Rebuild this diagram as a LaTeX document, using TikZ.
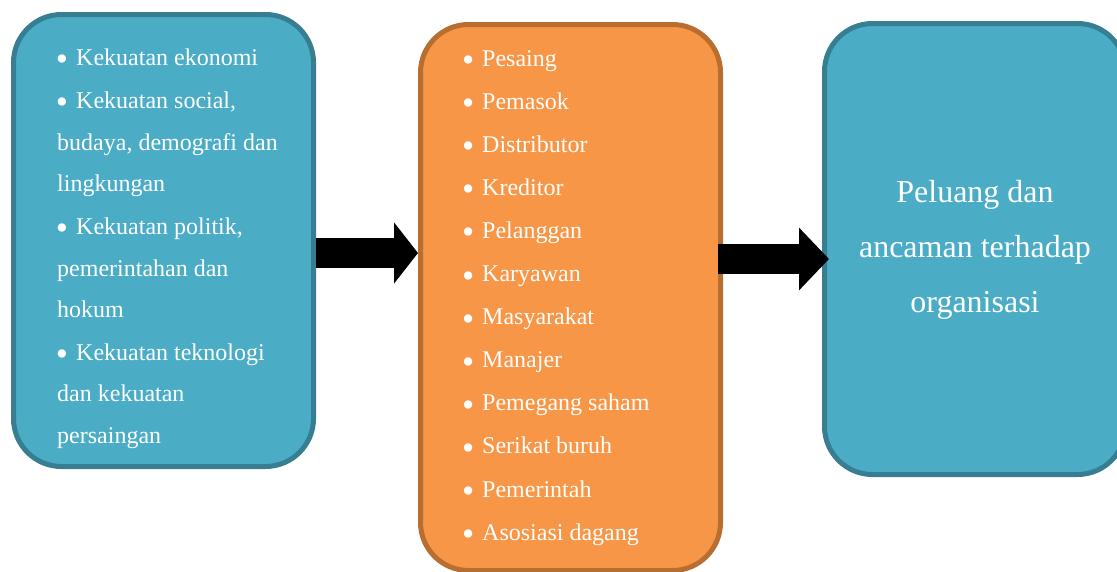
\documentclass[tikz,border=0pt]{standalone}
\usepackage{fontspec}
\setmainfont{Liberation Serif}
\usetikzlibrary{arrows.meta,calc}

\definecolor{panelblue}{HTML}{4BACC6}
\definecolor{panelblueedge}{HTML}{387E92}
\definecolor{panelorange}{HTML}{F79646}
\definecolor{panelorangeedge}{HTML}{B86E30}

\newcommand\itemsize{\fontsize{24}{24}\selectfont}
\newcommand\titlesize{\fontsize{32}{32}\selectfont}
% list bullet: a slightly enlarged dot in a fixed-width box
\newcommand\blt{\makebox[19pt][l]{\hspace{-1.2pt}\raisebox{-5.5pt}{\scalebox{1.45}{•}}}}

\tikzset{
  panel/.style={draw, line width=5pt, rounded corners=48pt, inner sep=0pt},
  bluepanel/.style={panel, fill=panelblue, draw=panelblueedge},
  orangepanel/.style={panel, fill=panelorange, draw=panelorangeedge},
  item/.style={anchor=base west, inner sep=0pt, text=white, font=\itemsize},
  title/.style={anchor=base, inner sep=0pt, text=white, font=\titlesize},
  blockarrow/.style 2 args={draw=black, line width=30pt, -{Triangle[width=#1,length=#2]}}
}

\begin{document}
\begin{tikzpicture}[x=1pt,y=-1pt]
  \useasboundingbox (0,0) rectangle (1117,571);
  \clip (0,0) rectangle (1117,571);

  % the three panels
  \node[bluepanel, minimum width=300pt, minimum height=452pt] (forces) at (163.5,240.5) {};
  \node[orangepanel, minimum width=300pt, minimum height=546pt] (stake) at (570.5,297.5) {};
  \node[bluepanel, minimum width=301pt, minimum height=451pt] (result) at (975,249) {};

  % external forces
  \node[item] (f1)  at (57,65)  {\blt Kekuatan ekonomi};
  \node[item] (f2)  at (57,108) {\blt Kekuatan social,};
  \node[item] (f3)  at (57,150) {budaya, demografi dan};
  \node[item] (f4)  at (57,191) {lingkungan};
  \node[item] (f5)  at (57,234) {\blt Kekuatan politik,};
  \node[item] (f6)  at (57,276) {pemerintahan dan};
  \node[item] (f7)  at (57,317) {hokum};
  \node[item] (f8)  at (57,360) {\blt Kekuatan teknologi};
  \node[item] (f9)  at (57,401) {dan kekuatan};
  \node[item] (f10) at (57,443) {persaingan};

  % stakeholders
  \foreach \txt [count=\i from 0] in {Pesaing, Pemasok, Distributor, Kreditor,
      Pelanggan, Karyawan, Masyarakat, Manajer, Pemegang saham,
      Serikat buruh, Pemerintah, Asosiasi dagang}
    \node[item] (s\i) at (463,66+43.1*\i) {\blt\txt};

  % outcome
  \node[title] (r1) at (975,202) {Peluang dan};
  \node[title] (r2) at (975,257) {ancaman terhadap};
  \node[title] (r3) at (975,312) {organisasi};

  % block arrows between the panels
  \draw[blockarrow={60pt}{24pt}] (forces.east |- 0,253) -- (stake.west |- 0,253);
  \draw[blockarrow={61pt}{30pt}] ($(stake.east |- 0,259)+(-5,0)$) -- ($(result.west |- 0,259)+(7,0)$);
\end{tikzpicture}
\end{document}
